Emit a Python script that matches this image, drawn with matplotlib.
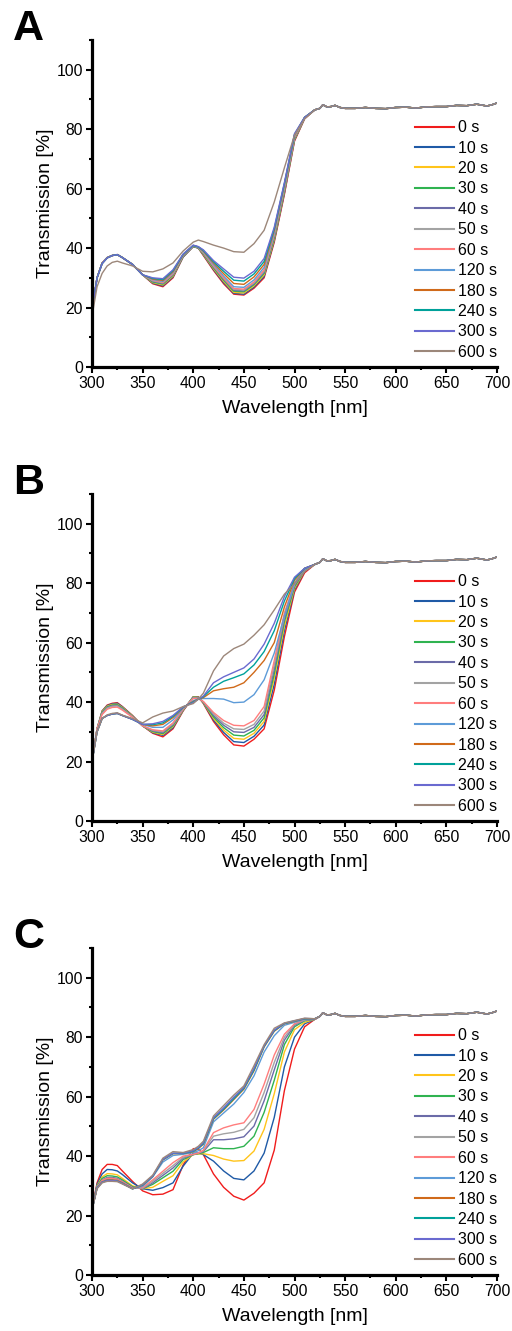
import matplotlib
matplotlib.use("Agg")
import matplotlib.pyplot as plt
from matplotlib.ticker import MultipleLocator

plt.rcParams['font.family'] = ['Liberation Sans', 'DejaVu Sans']

# time labels and line colours
times = ["0 s", "10 s", "20 s", "30 s", "40 s", "50 s", "60 s",
         "120 s", "180 s", "240 s", "300 s", "600 s"]
colors = ["#f01c1c", "#1f5aa6", "#ffc41a", "#2fb350", "#6b6ba8", "#a3a3a3",
          "#ff7d7d", "#5d9bd8", "#d06a1a", "#00a19a", "#6a6ad0", "#9c877a"]

# wavelength grid (nm) for the region where the spectra differ
wl_head = [300, 305, 310, 315, 320, 325, 330, 340, 350, 360, 370, 380, 390,
           400, 405, 410, 420, 430, 440, 450, 460, 470, 480, 490, 500, 510, 520]
# shared flat part above ~520 nm
wl_tail = [525, 528, 532, 536, 540, 545, 550, 560, 570, 580, 590, 600, 610,
           620, 630, 640, 650, 660, 670, 680, 690, 695, 700]
tail_vals = [87.0, 88.2, 87.5, 87.6, 88.0, 87.3, 87.0, 87.0, 87.3, 87.0, 86.9,
             87.3, 87.4, 87.1, 87.5, 87.6, 87.6, 88.0, 87.9, 88.4, 87.8, 88.2, 88.8]

# panel A: transmission [%] per time
trans_a = [
    [19, 30, 35.0, 36.8, 37.5, 37.8, 36.8, 34.5, 31.0, 28.0, 27.0, 30.0, 37.0, 40.5, 40.0, 37.5, 32.5, 28.0, 24.5, 24.2, 26.5, 30.0, 42.0, 58.0, 76.0, 83.5, 86.5],
    [19, 30, 35.0, 36.8, 37.5, 37.8, 36.8, 34.5, 31.0, 28.2, 27.3, 30.3, 37.0, 40.5, 40.0, 37.7, 32.8, 28.4, 24.8, 24.5, 26.9, 30.5, 42.5, 58.5, 76.3, 83.6, 86.5],
    [19, 30, 35.0, 36.8, 37.5, 37.8, 36.8, 34.5, 31.0, 28.4, 27.6, 30.6, 37.2, 40.6, 40.1, 37.9, 33.1, 28.8, 25.1, 24.9, 27.3, 31.0, 43.0, 59.0, 76.6, 83.7, 86.5],
    [19, 30, 35.0, 36.8, 37.5, 37.8, 36.8, 34.5, 31.0, 28.6, 27.9, 30.9, 37.3, 40.6, 40.1, 38.1, 33.4, 29.2, 25.5, 25.3, 27.7, 31.5, 43.5, 59.4, 76.9, 83.8, 86.5],
    [19, 30, 35.0, 36.8, 37.5, 37.8, 36.8, 34.5, 31.0, 28.8, 28.1, 31.1, 37.4, 40.7, 40.2, 38.3, 33.7, 29.5, 25.8, 25.6, 28.0, 31.9, 44.0, 59.8, 77.1, 83.8, 86.5],
    [19, 30, 35.0, 36.8, 37.5, 37.8, 36.8, 34.5, 31.0, 29.0, 28.3, 31.3, 37.5, 40.7, 40.2, 38.4, 33.9, 29.8, 26.1, 25.9, 28.3, 32.3, 44.4, 60.2, 77.3, 83.8, 86.5],
    [19, 30, 35.0, 36.8, 37.5, 37.8, 36.8, 34.5, 31.0, 29.2, 28.5, 31.5, 37.6, 40.8, 40.3, 38.6, 34.1, 30.0, 26.4, 26.2, 28.6, 32.7, 44.8, 60.5, 77.5, 83.9, 86.5],
    [19, 30, 34.8, 36.7, 37.5, 37.8, 36.8, 34.5, 31.0, 29.4, 28.8, 31.8, 37.7, 40.8, 40.3, 38.8, 34.5, 30.6, 27.0, 26.8, 29.3, 33.5, 45.3, 61.0, 77.8, 83.9, 86.5],
    [19, 30, 34.8, 36.7, 37.5, 37.8, 36.8, 34.5, 31.0, 29.6, 29.1, 32.1, 37.8, 40.9, 40.4, 39.0, 35.0, 31.4, 28.1, 27.8, 30.3, 34.5, 46.0, 61.4, 78.0, 84.0, 86.5],
    [19, 30, 34.8, 36.7, 37.5, 37.8, 36.8, 34.5, 31.0, 29.8, 29.4, 32.4, 37.9, 40.9, 40.4, 39.2, 35.4, 32.2, 29.2, 28.9, 31.3, 35.5, 46.5, 61.7, 78.2, 84.0, 86.5],
    [19, 30, 34.8, 36.7, 37.5, 37.8, 36.8, 34.5, 31.0, 30.0, 29.7, 32.7, 38.0, 41.0, 40.5, 39.4, 35.8, 33.0, 30.2, 29.9, 32.2, 36.5, 47.0, 62.0, 78.5, 84.0, 86.5],
    [17, 27, 31.5, 34.0, 35.2, 35.6, 35.0, 34.0, 32.2, 32.0, 33.0, 35.0, 39.0, 42.0, 42.7, 42.2, 41.0, 40.0, 38.8, 38.6, 41.5, 46.0, 55.5, 67.0, 78.0, 83.5, 86.5],
]

# panel B
trans_b = [
    [20, 31, 37.0, 39.0, 39.6, 39.8, 38.5, 35.5, 32.0, 29.5, 28.3, 31.0, 37.0, 41.8, 41.8, 39.5, 33.5, 29.0, 25.6, 25.2, 27.5, 31.0, 44.0, 62.0, 77.0, 83.5, 86.3],
    [20, 31, 37.0, 38.8, 39.4, 39.6, 38.4, 35.4, 32.0, 29.7, 28.8, 31.4, 37.2, 41.8, 41.7, 39.7, 34.0, 29.8, 26.7, 26.4, 28.5, 32.3, 46.0, 64.0, 77.8, 84.0, 86.3],
    [20, 31, 36.8, 38.6, 39.2, 39.3, 38.2, 35.3, 32.0, 29.9, 29.1, 31.8, 37.3, 41.7, 41.6, 39.8, 34.5, 30.6, 27.8, 27.5, 29.5, 33.5, 48.0, 65.5, 78.3, 84.2, 86.3],
    [20, 31, 36.6, 38.4, 39.0, 39.1, 38.0, 35.2, 32.0, 30.1, 29.4, 32.1, 37.4, 41.6, 41.5, 39.9, 35.0, 31.4, 28.9, 28.6, 30.5, 34.7, 49.5, 67.0, 78.8, 84.4, 86.3],
    [20, 31, 36.4, 38.2, 38.8, 38.9, 37.8, 35.1, 32.0, 30.3, 29.7, 32.4, 37.5, 41.5, 41.4, 40.0, 35.5, 32.2, 30.0, 29.8, 31.5, 35.8, 51.0, 68.0, 79.2, 84.6, 86.3],
    [20, 31, 36.2, 38.0, 38.6, 38.7, 37.6, 35.0, 32.0, 30.5, 30.0, 32.7, 37.6, 41.4, 41.3, 40.1, 36.0, 32.9, 31.0, 30.8, 32.5, 37.0, 52.5, 69.0, 79.6, 84.8, 86.3],
    [20, 31, 35.8, 37.6, 38.2, 38.3, 37.3, 34.9, 32.0, 30.7, 30.3, 33.0, 37.7, 41.2, 41.2, 40.2, 36.5, 33.8, 32.2, 32.0, 33.8, 38.5, 54.0, 70.0, 80.0, 85.0, 86.3],
    [20, 30, 34.5, 35.5, 36.0, 36.2, 35.5, 34.2, 32.5, 31.5, 31.5, 34.0, 38.0, 40.5, 41.0, 41.2, 41.2, 41.0, 39.8, 40.0, 42.5, 47.5, 56.5, 69.0, 80.0, 84.5, 86.3],
    [20, 30, 34.5, 35.5, 36.0, 36.2, 35.5, 34.2, 32.5, 32.0, 32.5, 34.8, 38.2, 40.2, 41.0, 41.5, 43.8, 44.5, 45.0, 46.5, 50.0, 54.0, 60.0, 72.0, 81.0, 85.0, 86.3],
    [20, 30, 34.5, 35.5, 36.0, 36.2, 35.5, 34.2, 32.5, 32.4, 33.0, 35.2, 38.3, 40.0, 41.0, 41.8, 45.0, 47.0, 48.2, 49.5, 52.5, 57.0, 64.0, 74.0, 81.5, 85.0, 86.3],
    [20, 30, 34.5, 35.5, 36.0, 36.2, 35.5, 34.2, 32.5, 32.7, 33.5, 35.5, 38.4, 39.8, 41.0, 42.0, 46.5, 48.5, 50.0, 51.5, 54.5, 59.5, 66.5, 75.5, 82.0, 85.0, 86.3],
    [20, 30, 34.5, 35.7, 36.2, 36.4, 35.6, 34.5, 33.0, 35.0, 36.3, 37.0, 38.5, 39.5, 41.0, 43.0, 50.5, 55.5, 58.0, 59.5, 62.5, 66.0, 71.0, 76.3, 79.8, 84.0, 86.3],
]

# panel C
trans_c = [
    [22, 31, 35.5, 37.2, 37.2, 36.8, 35.0, 31.5, 28.3, 27.0, 27.2, 28.7, 37.0, 42.5, 42.5, 40.5, 34.0, 29.5, 26.5, 25.2, 27.5, 31.0, 42.0, 62.0, 76.0, 83.5, 86.0],
    [22, 30.5, 34.0, 35.5, 35.4, 35.0, 33.8, 31.0, 29.0, 28.5, 29.4, 31.0, 36.6, 41.0, 41.0, 40.5, 38.3, 35.0, 32.5, 32.0, 35.0, 41.0, 53.0, 70.0, 80.0, 84.5, 86.0],
    [22, 30.0, 33.0, 34.1, 34.0, 33.7, 32.5, 30.0, 29.0, 29.5, 31.5, 33.4, 38.0, 40.5, 40.7, 40.8, 40.2, 39.0, 38.3, 38.5, 41.7, 49.0, 61.0, 75.0, 82.5, 85.0, 86.0],
    [22, 29.8, 32.5, 33.4, 33.3, 33.0, 32.0, 29.7, 29.0, 30.5, 32.7, 34.9, 38.8, 40.5, 40.8, 41.2, 42.8, 42.5, 42.5, 43.3, 46.7, 54.7, 65.5, 77.5, 83.5, 85.5, 86.0],
    [22, 29.6, 32.0, 32.8, 32.8, 32.5, 31.5, 29.5, 29.0, 31.0, 33.5, 36.0, 39.3, 40.5, 41.0, 41.5, 45.5, 45.5, 45.8, 46.5, 50.1, 58.6, 69.0, 79.0, 84.0, 85.7, 86.0],
    [22, 29.5, 31.8, 32.5, 32.5, 32.2, 31.3, 29.3, 29.2, 31.5, 34.2, 36.8, 39.6, 40.6, 41.0, 41.8, 46.7, 47.5, 48.0, 49.0, 52.9, 61.4, 71.5, 80.0, 84.3, 85.8, 86.0],
    [22, 29.5, 31.8, 32.5, 32.5, 32.2, 31.3, 29.3, 29.4, 32.0, 34.9, 37.8, 40.0, 40.6, 41.0, 42.0, 47.9, 49.5, 50.5, 51.2, 55.7, 64.2, 74.0, 81.0, 84.5, 86.0, 86.0],
    [22, 29.3, 31.3, 32.0, 32.0, 31.8, 31.0, 29.0, 29.8, 33.0, 38.0, 40.2, 40.6, 41.2, 41.8, 42.8, 51.5, 54.5, 57.5, 61.4, 67.0, 75.0, 80.5, 84.0, 85.0, 86.0, 86.2],
    [22, 29.3, 31.3, 32.0, 32.0, 31.8, 31.0, 29.0, 30.2, 33.2, 38.7, 40.8, 40.9, 41.5, 42.5, 44.0, 52.4, 55.5, 59.0, 62.5, 68.7, 76.7, 82.0, 84.5, 85.3, 86.2, 86.2],
    [22, 29.3, 31.2, 31.8, 31.8, 31.6, 30.8, 29.0, 30.3, 33.2, 38.8, 40.9, 40.9, 41.6, 42.7, 44.2, 52.6, 55.8, 59.3, 62.8, 69.0, 76.9, 82.2, 84.6, 85.4, 86.2, 86.2],
    [22, 29.3, 31.2, 31.8, 31.8, 31.6, 30.8, 29.0, 30.4, 33.3, 38.9, 41.0, 41.0, 41.8, 42.9, 44.5, 52.9, 56.2, 59.8, 63.1, 69.5, 77.1, 82.4, 84.7, 85.5, 86.3, 86.2],
    [22, 29.0, 31.0, 31.5, 31.5, 31.4, 30.6, 29.0, 30.6, 33.6, 39.3, 41.5, 41.2, 42.2, 43.3, 45.0, 53.5, 57.0, 60.5, 63.6, 70.4, 77.5, 83.0, 84.8, 85.6, 86.4, 86.2],
]

panels = [("A", trans_a), ("B", trans_b), ("C", trans_c)]
bottoms = [964 / 1331, 510 / 1331, 56 / 1331]

fig = plt.figure(figsize=(5.12, 13.31), dpi=100)

for (letter, data), bot in zip(panels, bottoms):
    ax = fig.add_axes([92 / 512, bot, 405 / 512, 327 / 1331])
    wl = wl_head + wl_tail
    for label, col, row in zip(times, colors, data):
        ax.plot(wl, row + tail_vals, color=col, lw=1.0, label=label)

    ax.set_xlim(300, 700)
    ax.set_ylim(0, 110)
    ax.xaxis.set_major_locator(MultipleLocator(50))
    ax.xaxis.set_minor_locator(MultipleLocator(25))
    ax.yaxis.set_minor_locator(MultipleLocator(10))
    ax.set_yticks([0, 20, 40, 60, 80, 100])
    for s in ["top", "right"]:
        ax.spines[s].set_visible(False)
    for s in ["left", "bottom"]:
        ax.spines[s].set_linewidth(2.3)
    ax.tick_params(which="major", direction="out", length=4, width=1.5,
                   labelsize=11.3, pad=2.5)
    ax.tick_params(which="minor", direction="out", length=2.5, width=1.5)
    ax.set_xlabel("Wavelength [nm]", fontsize=14, labelpad=6.5)
    ax.set_ylabel("Transmission [%]", fontsize=14, labelpad=2)

    leg = ax.legend(loc="upper right", bbox_to_anchor=(1.0, 0.755), frameon=False,
                    fontsize=11.5, handlelength=2.4, handletextpad=0.25,
                    labelspacing=0.34, borderpad=0, borderaxespad=0)
    for h in leg.get_lines():
        h.set_linewidth(1.5)

    top_px = (1 - bot - 327 / 1331)
    fig.text(13 / 512, 1 - top_px, letter, fontsize=31, fontweight="bold",
             va="baseline", ha="left")

fig.savefig("out.png", dpi=100)
